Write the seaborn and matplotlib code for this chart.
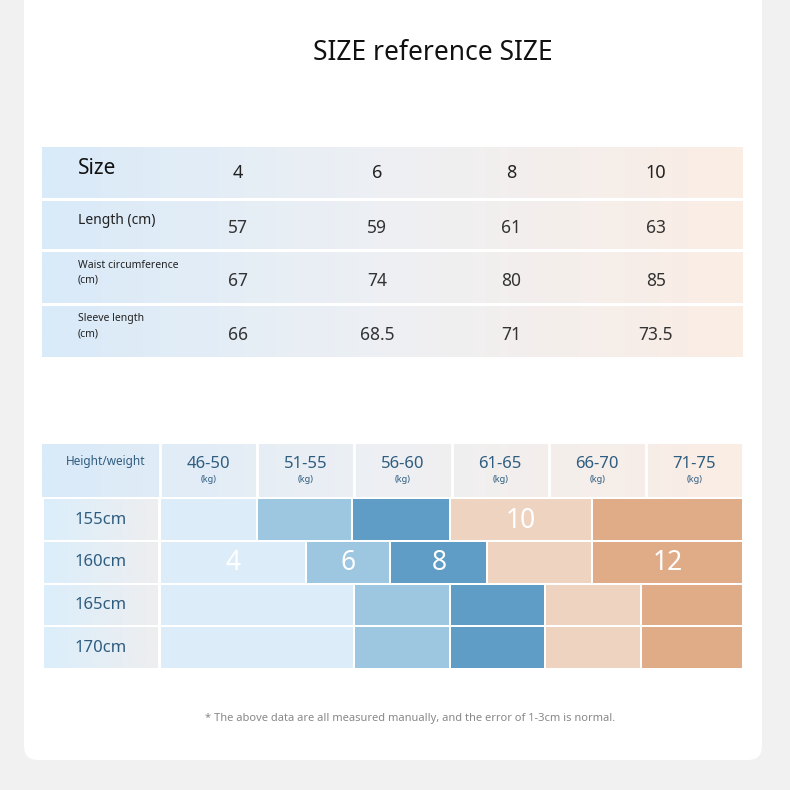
import matplotlib
matplotlib.use("Agg")
import matplotlib.pyplot as plt
import numpy as np
import seaborn as sns
from matplotlib.patches import Rectangle, FancyBboxPatch
from matplotlib.colors import LinearSegmentedColormap

sns.set_theme(style="white")
plt.rcParams['font.family'] = ['Noto Sans', 'DejaVu Sans']

title = "SIZE reference SIZE"
sizes = ["4", "6", "8", "10"]
row_labels = ["Length (cm)", "Waist circumference\n(cm)", "Sleeve length\n(cm)"]
row_values = [["57", "59", "61", "63"], ["67", "74", "80", "85"], ["66", "68.5", "71", "73.5"]]

weights = ["46-50", "51-55", "56-60", "61-65", "66-70", "71-75"]
heights = ["155cm", "160cm", "165cm", "170cm"]
band_sizes = ["4", "6", "8", "10", "12"]
band_colors = ["#dcedf9", "#9dc6e1", "#5f9dc6", "#efd3c1", "#e0ac87"]
# band edges per height row, in weight-column units (0..6)
band_edges = [
    [0, 1.0, 1.98, 2.98, 4.45, 6],
    [0, 1.5, 1.55 + 0.82, 2.55 + 0.82, 4.45, 6],
    [0, 2.0, 2.98, 3.96, 4.95, 6],
    [0, 2.0, 2.98, 3.96, 4.95, 6],
]
label_row = 1  # row carrying the size numbers (10 placed in row 0)
note = "* The above data are all measured manually, and the error of 1-3cm is normal."

fig = plt.figure(figsize=(7.9, 7.9), dpi=100)
fig.patch.set_facecolor("#f1f1f1")
ax = fig.add_axes([0, 0, 1, 1])
ax.set_xlim(0, 790); ax.set_ylim(790, 0); ax.axis("off")
ax.add_patch(FancyBboxPatch((24, -20), 738, 780, boxstyle="round,pad=0,rounding_size=14",
                            fc="white", ec="none"))

ax.text(433, 53, title, ha="center", va="center", fontsize=19, color="#111")

cmap = LinearSegmentedColormap.from_list("g", ["#d9eaf9", "#eef0f3", "#fbede4"])
grad = np.linspace(0, 1, 256)[None, :]

# top table
tx0, tx1 = 42, 743
tops = [(147, 198), (201, 249), (252, 303), (306, 357)]
for y0, y1 in tops:
    ax.imshow(grad, cmap=cmap, extent=(tx0, tx1, y1, y0), aspect="auto", zorder=1)
col_x = [238, 377, 511, 656]
ax.text(78, 168, "Size", fontsize=15, va="center", color="#111", zorder=3)
for x, s in zip(col_x, sizes):
    ax.text(x, 173, s, fontsize=13, ha="center", va="center", color="#222", zorder=3)
for i, (lab, vals) in enumerate(zip(row_labels, row_values)):
    y0, y1 = tops[i + 1]
    fs = 10 if i == 0 else 7.5
    ax.text(78, (y0 + y1) / 2 - 5, lab, fontsize=fs, va="center", color="#222", zorder=3,
            linespacing=1.5)
    for x, v in zip(col_x, vals):
        ax.text(x, (y0 + y1) / 2 + 3, v, fontsize=12.5, ha="center", va="center", color="#333", zorder=3)

# bottom table header
hx0, hx1 = 42, 743
ax.imshow(grad, cmap=cmap, extent=(hx0, hx1, 497, 444), aspect="auto", zorder=1)
cx0, cw = 160, (743 - 160) / 6
for k in range(7):
    ax.plot([cx0 + k * cw] * 2, [444, 497], color="white", lw=2, zorder=2)
ax.text(106, 462, "Height/weight", fontsize=8.5, ha="center", va="center", color="#2f5d80", zorder=3)
for k, w in enumerate(weights):
    xc = cx0 + (k + 0.5) * cw
    ax.text(xc, 464, w, fontsize=12, ha="center", va="center", color="#2f5d80", zorder=3)
    ax.text(xc, 479, "(kg)", fontsize=6.5, ha="center", va="center", color="#2f5d80", zorder=3)

rows = [(499, 540), (542, 583), (585, 625), (627, 668)]
lab_cmap = LinearSegmentedColormap.from_list("l", ["#dbeefb", "#eeeef0"])
for r, (y0, y1) in enumerate(rows):
    ax.imshow(grad, cmap=lab_cmap, extent=(44, 158, y1, y0), aspect="auto", zorder=1)
    ax.text(101, (y0 + y1) / 2, heights[r], fontsize=12, ha="center", va="center", color="#2f5d80", zorder=3)
    e = band_edges[r]
    for b in range(5):
        xa, xb = cx0 + e[b] * cw, cx0 + e[b + 1] * cw
        ax.add_patch(Rectangle((xa + 1, y0), xb - xa - 2, y1 - y0, fc=band_colors[b], ec="none", zorder=2))
        if (r == 1 and b != 3) or (r == 0 and b == 3):
            ax.text((xa + xb) / 2, (y0 + y1) / 2 + 1, band_sizes[b], fontsize=19, ha="center",
                    va="center", color="white", zorder=3)

ax.text(410, 718, note, fontsize=8, ha="center", va="center", color="#888")
fig.savefig("out.png", dpi=100, facecolor=fig.get_facecolor())
